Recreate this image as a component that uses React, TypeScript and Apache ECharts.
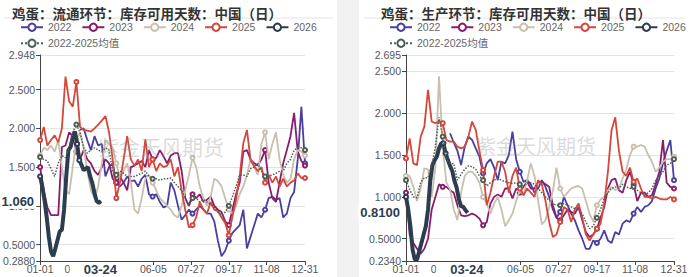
import React, { useEffect, useRef } from 'react';
import * as echarts from 'echarts';

// ---------- data ----------
const STEP = 5; // days between points of 2022-2025 and average
const STEP_2026 = 3; // days between points of 2026
const START_2022_LEFT = 55;
const START_2022_RIGHT = 60;

const titles = ['鸡蛋：流通环节：库存可用天数：中国（日）', '鸡蛋：生产环节：库存可用天数：中国（日）'];
const seriesNames = ['2022', '2023', '2024', '2025', '2026', '2022-2025均值'];
const xTickDays = [0, 52, 104, 156, 208, 260, 312, 365];
const xLabelDays = [0, 52, 156, 208, 260, 312, 365];
const currentDay = 83; // 03-24
const yRangeLeft = [0.288, 2.948];
const yRangeRight = [0.234, 2.695];

// Left panel: 流通环节
const left2022 = [
  1.98, 2.0, 1.85, 1.72, 1.9, 1.78, 1.8, 1.38, 1.5, 1.55,
  1.3, 1.25, 1.3, 1.38, 1.32, 1.33, 1.25, 1.35, 1.4, 1.15,
  1.12, 1.15, 1.05, 0.98, 1.0, 1.3, 1.2, 1.0, 0.82, 0.88,
  0.95, 0.9, 0.95, 1.0, 0.95, 0.9, 0.9, 0.8, 0.55, 0.35,
  0.42, 0.55, 0.65, 0.7, 0.75, 0.95, 0.45, 0.6, 0.75, 0.9,
  0.85, 0.95, 1.1, 1.12, 1.08, 1.1, 0.85, 0.9, 1.1, 1.18,
  1.6, 2.28, 1.55,
];
const left2023 = [
  1.5, 1.2, 0.98, 0.88, 0.88, 0.88, 1.76, 1.78, 1.95, 1.9,
  1.7, 1.6, 1.72, 1.6, 1.55, 1.45, 1.4, 1.5, 1.6, 1.55,
  1.35, 1.3, 1.38, 1.3, 1.2, 1.5, 1.52, 1.55, 1.58, 1.5,
  1.72, 1.6, 1.62, 1.72, 1.64, 1.55, 1.65, 1.68, 1.68, 1.45,
  1.1, 1.0, 1.15, 1.1, 1.15, 1.05, 1.08, 1.12, 1.0, 0.95,
  0.92, 0.8, 0.75, 0.95, 1.15, 1.3, 1.7, 1.72, 1.6, 1.55,
  1.52, 1.6, 1.72, 1.3, 1.1, 1.05, 1.3, 1.55, 1.72, 1.9,
  2.2, 1.7, 1.58, 1.52,
];
const left2024 = [
  1.65, 1.75, 1.72, 1.78, 1.7, 1.85, 1.5, 1.2, 1.15, 1.5,
  1.85, 1.95, 1.75, 1.45, 1.2, 1.1, 1.25, 1.55, 1.85, 1.8,
  1.75, 1.55, 1.35, 1.45, 1.55, 1.3, 0.95, 0.9, 1.1, 1.35,
  1.4, 1.3, 1.2, 1.1, 1.05, 1.0, 0.95, 0.88, 0.85, 1.0,
  1.2, 1.4, 1.62, 1.5, 1.25, 1.1, 1.0, 1.12, 1.35, 1.32,
  1.25, 1.1, 0.95, 0.9, 1.0, 1.15, 1.25, 1.4, 1.6, 1.5,
  1.4, 1.8, 1.95, 1.6, 1.8, 1.95, 1.6, 1.4, 1.3, 1.35,
  1.6, 1.72, 1.7, 1.65,
];
const left2025 = [
  1.85, 2.02, 1.78, 1.85, 1.91, 1.82, 2.0, 2.67, 2.35, 2.28,
  2.6, 2.02, 1.98, 1.97, 1.96, 2.0, 2.05, 2.1, 2.16, 1.95,
  1.6, 1.1, 1.3, 1.6, 1.9, 1.6, 1.52, 1.6, 1.45, 1.86,
  1.5, 1.6, 1.45, 1.55, 1.5, 1.52, 1.6, 1.38, 1.5, 1.2,
  0.95, 0.72, 0.75, 0.85, 1.05, 0.95, 0.9, 1.05, 0.95, 0.93,
  0.85, 0.78, 0.62, 0.86, 1.08, 1.38, 1.81, 1.98, 1.59, 1.51,
  1.45, 1.5, 1.3, 1.4, 1.3, 1.38, 1.25, 1.35, 1.25, 1.3,
  1.33, 1.42, 1.36, 1.36,
];
const left2026 = [
  1.38, 1.25, 1.08, 0.86, 0.6, 0.41, 0.35, 0.45, 0.56, 0.67,
  0.69, 0.95, 1.38, 1.72, 1.76, 1.89, 1.96, 1.8, 1.59, 1.53,
  1.46, 1.48, 1.5, 1.38, 1.29, 1.16, 1.06, 1.04, 1.06,
];
const leftAvg = [
  1.63, 1.6, 1.58, 1.48, 1.38, 1.55, 1.65, 1.62, 1.75, 1.95,
  2.05, 1.95, 1.75, 1.68, 1.72, 1.75, 1.72, 1.7, 1.75, 1.72,
  1.45, 1.4, 1.45, 1.42, 1.38, 1.38, 1.38, 1.4, 1.42, 1.45,
  1.38, 1.35, 1.35, 1.33, 1.35, 1.35, 1.36, 1.3, 1.25, 1.2,
  1.1, 1.0, 1.1, 1.1, 1.05, 1.08, 1.05, 1.02, 0.98, 0.92,
  0.88, 0.92, 1.0, 1.12, 1.25, 1.4, 1.4, 1.38, 1.48, 1.5,
  1.55, 1.45, 1.38, 1.38, 1.4, 1.42, 1.45, 1.45, 1.55, 1.6,
  1.72, 1.75, 1.75, 1.72,
];

// Right panel: 生产环节
const right2022 = [
  1.76, 1.65, 1.55, 1.38, 1.6, 1.72, 1.68, 1.58, 1.48, 1.28,
  1.4, 1.45, 1.35, 1.2, 1.42, 1.4, 1.5, 1.78, 1.45, 1.3,
  1.18, 1.2, 1.15, 1.05, 1.1, 1.2, 1.12, 1.0, 0.85, 0.75,
  0.82, 1.0, 0.9, 0.8, 0.72, 0.6, 0.5, 0.38, 0.38, 0.48,
  0.45, 0.5, 0.6, 0.48, 0.45, 0.58, 0.55, 0.68, 0.72, 0.7,
  0.8, 0.88, 0.82, 0.88, 0.9, 0.95, 1.1, 1.22, 1.4, 1.55,
  1.68, 1.2,
];
const right2023 = [
  1.05, 0.55, 0.45, 0.38, 0.32, 0.38, 0.5, 0.85, 1.0, 1.15,
  1.12, 1.12, 1.08, 1.05, 0.9, 0.78, 0.77, 0.78, 0.8, 0.78,
  0.74, 0.66, 0.7, 0.92, 1.0, 1.03, 1.0, 1.1, 1.1, 0.98,
  1.1, 1.05, 1.12, 1.18, 1.1, 1.1, 1.18, 1.18, 1.15, 1.12,
  0.9, 0.75, 0.72, 0.78, 0.85, 0.82, 0.8, 0.88, 0.72, 0.58,
  0.52, 0.55, 0.62, 0.75, 0.88, 1.1, 1.2, 1.22, 1.08, 1.05,
  1.2, 1.3, 1.15, 0.95, 1.05, 1.05, 1.0, 1.02, 1.15, 1.3,
  1.68, 1.17, 1.12, 1.1,
];
const right2024 = [
  1.25, 1.25, 1.12, 0.95, 1.1, 1.34, 1.33, 1.0, 1.35, 2.44,
  1.6, 1.17, 1.09, 0.85, 0.72, 1.05, 1.25, 1.3, 1.3, 1.25,
  1.17, 1.0, 0.92, 0.8, 0.92, 1.0, 0.85, 0.65, 0.72, 0.8,
  0.95, 1.08, 1.02, 1.2, 1.4, 1.25, 0.95, 0.67, 0.72, 0.88,
  1.07, 1.35, 1.1, 1.0, 1.05, 1.1, 1.12, 1.13, 1.1, 0.95,
  0.8, 0.7, 0.9, 0.97, 1.0, 1.08, 1.12, 1.08, 1.1, 1.22,
  1.33, 1.5, 1.6, 1.6, 1.62, 1.6, 1.5, 1.42, 1.3, 1.35,
  1.42, 1.45, 1.45, 1.48,
];
const right2025 = [
  1.46, 1.7, 1.4, 1.38, 1.72, 1.84, 2.28, 1.9, 1.88, 1.9,
  1.88, 1.68, 1.66, 1.66, 1.6, 1.58, 1.6, 1.72, 1.9, 1.8,
  1.55, 1.32, 0.9, 1.05, 1.25, 1.42, 1.42, 1.3, 1.05, 1.25,
  1.35, 1.1, 1.02, 1.1, 1.05, 1.0, 1.2, 1.15, 0.95, 0.7,
  0.52, 0.55, 0.7, 0.88, 0.85, 0.7, 0.85, 0.92, 0.75, 0.55,
  0.48, 0.55, 0.62, 0.68, 0.92, 1.3, 1.8, 1.95, 1.55, 1.3,
  1.25, 1.35, 1.18, 1.22, 1.1, 1.0, 1.0, 0.98, 1.0, 0.98,
  0.97, 0.97, 1.0, 0.97,
];
const right2026 = [
  1.0, 0.85, 0.65, 0.37, 0.25, 0.25, 0.35, 0.45, 0.55, 0.65,
  0.85, 1.19, 1.38, 1.44, 1.48, 1.58, 1.64, 1.64, 1.52, 1.44,
  1.37, 1.31, 1.19, 1.11, 0.97, 0.89, 0.88, 0.84, 0.81,
];
const rightAvg = [
  1.2, 1.09, 1.0, 0.99, 1.17, 1.23, 1.23, 1.37, 1.6, 1.95,
  1.72, 1.44, 1.4, 1.4, 1.2, 1.27, 1.33, 1.37, 1.36, 1.33,
  1.25, 1.2, 1.13, 1.17, 1.2, 1.22, 1.2, 1.18, 1.17, 1.16,
  1.17, 1.15, 1.13, 1.17, 1.17, 1.15, 1.1, 1.05, 1.0, 0.96,
  0.92, 0.9, 0.9, 0.92, 0.9, 0.88, 0.86, 0.85, 0.8, 0.7,
  0.62, 0.65, 0.75, 0.85, 0.98, 1.05, 1.1, 1.12, 1.1, 1.15,
  1.12, 1.1, 1.12, 1.08, 1.05, 1.02, 1.05, 1.1, 1.2, 1.25,
  1.3, 1.38, 1.4, 1.45,
];

// ---------- styles ----------
const COLORS = ['#4a3f9f', '#8b1c6c', '#c9bfae', '#d4473b', '#2b3d4f', '#4f5c52'];
const FONT = 'Liberation Sans, Arial, Noto Sans CJK SC, sans-serif';
const CJK = 'Noto Sans CJK SC, sans-serif';

function dayLabel(d: number) {
  const dt = new Date(2024, 0, 1 + d);
  const p = (n: number) => (n < 10 ? '0' + n : '' + n);
  return p(dt.getMonth() + 1) + '-' + p(dt.getDate());
}

function toData(values: number[], start: number, step: number) {
  return values.map((v, i) => {
    const d = start + i * step;
    const near = Math.abs(d - Math.round(d / 52) * 52) <= 2.5;
    return near ? { value: [d, v] } : { value: [d, v], symbol: 'none' };
  });
}

const boldLabel = {
  fontSize: 13,
  fontWeight: 'bold',
  color: '#2b3d4f',
  fontFamily: FONT,
  backgroundColor: '#fff',
  opacity: 1,
};

function buildPanel(idx: number, grid: any, yRange: number[], data: any) {
  const series: any[] = [];
  const list = [
    { vals: data.s2022, start: data.start2022, step: STEP },
    { vals: data.s2023, start: 0, step: STEP },
    { vals: data.s2024, start: 0, step: STEP },
    { vals: data.s2025, start: 0, step: STEP },
    { vals: data.s2026, start: 0, step: STEP_2026 },
    { vals: data.avg, start: 0, step: STEP },
  ];
  list.forEach((s, k) => {
    const isCur = k === 4;
    const isAvg = k === 5;
    const item: any = {
      name: seriesNames[k],
      type: 'line',
      xAxisIndex: idx,
      yAxisIndex: idx,
      data: toData(s.vals, s.start, s.step),
      symbol: 'emptyCircle',
      symbolSize: 4,
      showSymbol: true,
      color: COLORS[k],
      lineStyle: {
        width: isCur ? 4 : isAvg ? 1.5 : 1.8,
        type: isAvg ? 'dotted' : 'solid',
        color: COLORS[k],
      },
      itemStyle: { color: COLORS[k] },
      emphasis: { disabled: true },
      z: 2 + k,
    };
    if (isCur) {
      const last = s.vals[s.vals.length - 1];
      item.markLine = {
        silent: true,
        symbol: ['none', 'none'],
        emphasis: { disabled: true },
        lineStyle: { color: 'rgba(0,0,0,0)', width: 0, opacity: 1 },
        data: [
          {
            yAxis: last,
            label: {
              show: true,
              position: 'start',
              formatter: last.toPrecision(4),
              padding: [1, 2],
              distance: 4,
              ...boldLabel,
            },
          },
          {
            xAxis: currentDay,
            label: {
              show: true,
              position: 'start',
              formatter: dayLabel(currentDay),
              padding: [1, 4, 1, 14],
              offset: [-5, 0],
              distance: 1,
              ...boldLabel,
            },
          },
        ],
      };
    }
    series.push(item);
  });

  const xAxis = {
    type: 'value',
    gridIndex: idx,
    min: 0,
    max: 365,
    axisLine: { show: true, lineStyle: { color: '#444', width: 1 } },
    axisTick: { show: true, length: 4, customValues: xTickDays, lineStyle: { color: '#444' } },
    axisLabel: {
      customValues: xLabelDays,
      formatter: (v: number) => dayLabel(v),
      fontSize: 10.5,
      color: '#555',
      fontFamily: FONT,
      margin: 3,
    },
    splitLine: { show: false },
  };
  const yAxis = {
    type: 'value',
    gridIndex: idx,
    min: yRange[0],
    max: yRange[1],
    axisLine: { show: true, lineStyle: { color: '#444', width: 1 } },
    axisTick: { show: true, length: 4, lineStyle: { color: '#444' } },
    axisLabel: {
      formatter: (v: number) => Number(v).toPrecision(4),
      fontSize: 10.5,
      color: '#555',
      fontFamily: FONT,
      margin: 5,
    },
    splitLine: { show: true, lineStyle: { color: '#e3e3e3', width: 1 } },
  };
  return { grid, xAxis, yAxis, series };
}

export default function App() {
  const ref = useRef<HTMLDivElement>(null);
  useEffect(() => {
    if (!ref.current) return;
    const chart = echarts.init(ref.current, null, { renderer: 'svg' });
    const left = buildPanel(0, { left: 39, top: 55, width: 266, height: 206 }, yRangeLeft, {
      s2022: left2022, start2022: START_2022_LEFT, s2023: left2023, s2024: left2024,
      s2025: left2025, s2026: left2026, avg: leftAvg,
    });
    const right = buildPanel(1, { left: 406, top: 55, width: 268, height: 206 }, yRangeRight, {
      s2022: right2022, start2022: START_2022_RIGHT, s2023: right2023, s2024: right2024,
      s2025: right2025, s2026: right2026, avg: rightAvg,
    });
    const legendBase = {
      orient: 'horizontal',
      itemWidth: 22,
      itemHeight: 9,
      itemGap: 10,
      textStyle: { fontSize: 10.5, color: '#666', fontFamily: FONT },
      inactiveColor: '#ccc',
    };
    const option: any = {
      animation: false,
      backgroundColor: '#fff',
      title: [
        { text: titles[0], left: 7, top: 1, textStyle: { fontSize: 13.5, fontWeight: 'bold', color: '#333', fontFamily: CJK } },
        { text: titles[1], left: 376, top: 1, textStyle: { fontSize: 13.5, fontWeight: 'bold', color: '#333', fontFamily: CJK } },
      ],
      legend: [
        { ...legendBase, left: 15, top: 17, data: seriesNames.slice(0, 5) },
        { ...legendBase, left: 15, top: 33, data: seriesNames.slice(5) },
        { ...legendBase, left: 384, top: 17, data: seriesNames.slice(0, 5) },
        { ...legendBase, left: 384, top: 33, data: seriesNames.slice(5) },
      ],
      grid: [left.grid, right.grid],
      xAxis: [left.xAxis, right.xAxis],
      yAxis: [left.yAxis, right.yAxis],
      series: [...left.series, ...right.series],
      graphic: [
        { type: 'rect', left: 337, top: 0, shape: { width: 22, height: 277 }, style: { fill: '#f2f2f2' }, silent: true, z: -1 },
        { type: 'line', shape: { x1: 4, y1: 18, x2: 333, y2: 18 }, style: { stroke: '#e2e2e2', lineWidth: 1 }, silent: true },
        { type: 'line', shape: { x1: 364, y1: 18, x2: 684, y2: 18 }, style: { stroke: '#e2e2e2', lineWidth: 1 }, silent: true },
        { type: 'text', left: 98, top: 135, style: { text: '紫金天风期货', fontSize: 21, fill: 'rgba(150,150,150,0.35)', fontFamily: CJK }, silent: true, z: 10 },
        { type: 'text', left: 476, top: 135, style: { text: '紫金天风期货', fontSize: 20, fill: 'rgba(150,150,150,0.35)', fontFamily: CJK }, silent: true, z: 10 },
      ],
    };
    chart.setOption(option);
    return () => chart.dispose();
  }, []);
  return <div ref={ref} style={{ position: 'fixed', left: 0, top: 0, width: 692, height: 277 }} />;
}
